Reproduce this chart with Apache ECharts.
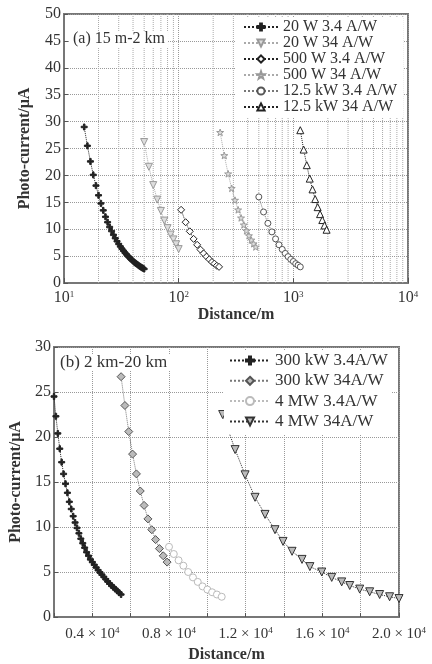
<!DOCTYPE html>
<html>
<head>
<meta charset="utf-8">
<script src="https://cdn.jsdelivr.net/npm/echarts@6/dist/echarts.min.js"></script>
<style>
  html, body { margin: 0; padding: 0; background: #fff; }
  #chart { width: 432px; height: 664px; }
</style>
</head>
<body>
<div id="chart"></div>
<script>
// ---- (a) 15 m - 2 km, log distance axis ----
const d20a = [15,16,17,18,19,20,21,22,23,24,25,26,27,28,29,30,31,32,33,34,35,36,37,38,39,40,41,42,43,44,45,46,47,48,49,50];
const i20a = [29.0,25.5,22.6,20.1,18.1,16.3,14.8,13.5,12.3,11.3,10.4,9.65,8.95,8.32,7.76,7.25,6.79,6.37,5.99,5.64,5.33,5.03,4.77,4.52,4.29,4.08,3.88,3.70,3.53,3.37,3.22,3.08,2.95,2.83,2.72,2.61];
const d20b = [50,55,60,65,70,75,80,85,90,95,100];
const i20b = [26.2,21.6,18.2,15.5,13.4,11.6,10.2,9.0,8.1,7.2,6.3];
const d500a = [105,115,125,135,145,155,165,175,185,195,205,215,225];
const i500a = [13.6,11.3,9.6,8.2,7.1,6.2,5.5,4.9,4.4,3.9,3.6,3.2,3.0];
const d500b = [230,250,270,290,310,330,350,370,390,410,430,450,470];
const i500b = [28.0,23.7,20.3,17.6,15.4,13.6,12.1,10.8,9.7,8.8,8.0,7.3,6.7];
const d12a = [500,550,600,650,700,750,800,850,900,950,1000,1050,1100,1150];
const i12a = [16.0,13.2,11.1,9.5,8.2,7.1,6.25,5.5,4.9,4.4,4.0,3.6,3.3,3.0];
const d12b = [1150,1230,1310,1390,1470,1550,1630,1710,1790,1870,1950];
const i12b = [28.4,24.8,21.9,19.4,17.4,15.6,14.1,12.8,11.7,10.7,9.9];
const namesA = ['20 W 3.4 A/W', '20 W 34 A/W', '500 W 3.4 A/W', '500 W 34 A/W', '12.5 kW 3.4 A/W', '12.5 kW 34 A/W'];
const minorLogTicks = [20,30,40,50,60,70,80,90,200,300,400,500,600,700,800,900,2000,3000,4000,5000,6000,7000,8000,9000];

// ---- (b) 2 km - 20 km, linear distance axis ----
const d300a = [2000,2100,2200,2300,2400,2500,2600,2700,2800,2900,3000,3100,3200,3300,3400,3500,3600,3700,3800,3900,4000,4100,4200,4300,4400,4500,4600,4700,4800,4900,5000,5100,5200,5300,5400,5500];
const i300a = [24.5,22.3,20.4,18.7,17.2,15.9,14.8,13.8,12.8,12.0,11.2,10.5,9.9,9.3,8.7,8.2,7.7,7.2,6.8,6.4,6.1,5.8,5.5,5.2,4.95,4.7,4.45,4.2,3.95,3.7,3.5,3.3,3.1,2.9,2.7,2.5];
const d300b = [5500,5700,5900,6100,6300,6500,6700,6900,7100,7300,7500,7700,7900];
const i300b = [26.7,23.5,20.6,18.1,15.9,14.0,12.4,10.9,9.7,8.6,7.6,6.8,6.1];
const d4a = [8000,8250,8500,8750,9000,9250,9500,9750,10000,10250,10500,10750];
const i4a = [7.8,7.0,6.3,5.7,5.0,4.4,3.9,3.4,3.05,2.75,2.5,2.25];
const d4b = [10800,11450,11970,12490,13010,13530,13950,14420,14940,15350,15970,16490,17010,17430,17950,18470,18990,19510,20000];
const i4b = [22.5,18.6,15.8,13.3,11.4,9.7,8.4,7.3,6.4,5.6,5.0,4.4,3.9,3.5,3.1,2.8,2.5,2.25,2.05];
const namesB = ['300 kW 3.4A/W', '300 kW 34A/W', '4 MW 3.4A/W', '4 MW 34A/W'];

const FONT = '"Liberation Serif", "Times New Roman", serif';
const PLUS = 'path://M3,0H5V3H8V5H5V8H3V5H0V3H3Z';
const STAR = 'path://M5,0L6.2,3.5L10,3.6L7,5.9L8.1,9.5L5,7.4L1.9,9.5L3,5.9L0,3.6L3.8,3.5Z';

function pairs(xs, ys) { return xs.map((x, i) => [x, ys[i]]); }

function mk(name, xs, ys, idx, symbol, size, fill, stroke, lineColor, rotate) {
  return {
    name: name, type: 'line', xAxisIndex: idx, yAxisIndex: idx,
    data: pairs(xs, ys),
    symbol: symbol, symbolSize: size, symbolRotate: rotate || 0, symbolKeepAspect: true,
    itemStyle: { color: fill, borderColor: stroke, borderWidth: 1 },
    lineStyle: { color: lineColor, width: 1, type: 'dotted' },
    emphasis: { disabled: true },
    z: 3
  };
}

// vertical minor grid lines of the log axis, broken between ticks with '-'
const minorGrid = [];
minorLogTicks.forEach(v => { minorGrid.push([v, 0], [v, 50], [v, '-']); });

const gridLine = { show: true, lineStyle: { color: '#999', type: 'dotted', width: 1 } };
const tickFont = { fontFamily: FONT, fontSize: 16, color: '#333' };
const nameFont = { fontFamily: FONT, fontSize: 16, fontWeight: 'bold', color: '#333' };
const axisLine = { show: true, lineStyle: { color: '#777', width: 2 } };

const series = [
  { name: 'minor', type: 'line', data: minorGrid, symbol: 'none', silent: true, z: 1,
    xAxisIndex: 0, yAxisIndex: 0, connectNulls: false,
    lineStyle: { color: '#aaa', width: 1, type: 'dotted' } },
  mk(namesA[0], d20a, i20a, 0, PLUS, 6, '#222', '#222', '#222'),
  mk(namesA[1], d20b, i20b, 0, 'triangle', 7, '#ddd', '#999', '#aaa', 180),
  mk(namesA[2], d500a, i500a, 0, 'diamond', 7, '#fff', '#222', '#222'),
  mk(namesA[3], d500b, i500b, 0, STAR, 7, '#ddd', '#999', '#aaa'),
  mk(namesA[4], d12a, i12a, 0, 'circle', 6, '#fff', '#555', '#777'),
  mk(namesA[5], d12b, i12b, 0, 'triangle', 7, '#fff', '#222', '#222'),
  mk(namesB[0], d300a, i300a, 1, PLUS, 6, '#222', '#222', '#222'),
  mk(namesB[1], d300b, i300b, 1, 'diamond', 8, '#bbb', '#555', '#777'),
  mk(namesB[2], d4a, i4a, 1, 'circle', 7, '#fff', '#bbb', '#bbb'),
  mk(namesB[3], d4b, i4b, 1, 'triangle', 8, '#bbb', '#333', '#333', 180)
];

const chart = echarts.init(document.getElementById('chart'), null, { renderer: 'canvas' });
chart.setOption({
  backgroundColor: '#fff',
  animation: false,
  title: [
    { text: '(a) 15 m-2 km', left: 70, top: 31, padding: [0, 3], backgroundColor: '#fff',
      textStyle: { fontFamily: FONT, fontSize: 16, fontWeight: 'normal', color: '#333' } },
    { text: '(b) 2 km-20 km', left: 57, top: 354, padding: [0, 3], backgroundColor: '#fff',
      textStyle: { fontFamily: FONT, fontSize: 17, fontWeight: 'normal', color: '#333' } }
  ],
  legend: [
    { data: namesA, orient: 'vertical', left: 235, top: 17, padding: [2, 6, 3, 8],
      backgroundColor: '#fff', itemWidth: 34, itemHeight: 9, itemGap: 0, selectedMode: false,
      textStyle: { fontFamily: FONT, fontSize: 16, color: '#333' } },
    { data: namesB, orient: 'vertical', left: 224, top: 350, padding: [2, 4, 4, 5],
      backgroundColor: '#fff', itemWidth: 40, itemHeight: 10, itemGap: 3.3, selectedMode: false,
      textStyle: { fontFamily: FONT, fontSize: 17, color: '#333' } }
  ],
  grid: [
    { left: 64, top: 14, width: 344, height: 269, show: true, borderColor: '#777', borderWidth: 2 },
    { left: 53, top: 347, width: 346, height: 271, show: true, borderColor: '#777', borderWidth: 2 }
  ],
  xAxis: [
    { type: 'log', logBase: 10, min: 10, max: 10000, gridIndex: 0,
      name: 'Distance/m', nameLocation: 'middle', nameGap: 22, nameTextStyle: nameFont,
      axisLine: axisLine, axisTick: { inside: true, length: 5, lineStyle: { color: '#555' } },
      splitLine: gridLine,
      axisLabel: {
        margin: 7,
        formatter: v => '{b|10}{s|' + Math.round(Math.log10(v)) + '}',
        rich: { b: { fontFamily: FONT, fontSize: 16, color: '#333', lineHeight: 16 },
                s: { fontFamily: FONT, fontSize: 9, color: '#333', verticalAlign: 'top', lineHeight: 10 } }
      } },
    { type: 'value', min: 2000, max: 20000, interval: 2000, gridIndex: 1,
      name: 'Distance/m', nameLocation: 'middle', nameGap: 30, nameTextStyle: nameFont,
      axisLine: axisLine, axisTick: { inside: true, length: 4, lineStyle: { color: '#555' } },
      splitLine: gridLine,
      axisLabel: {
        margin: 9,
        formatter: v => (v % 4000 === 0) ? '{b|' + (v / 10000).toFixed(1) + ' × 10}{s|4}' : '',
        rich: { b: { fontFamily: FONT, fontSize: 15, color: '#333', lineHeight: 16 },
                s: { fontFamily: FONT, fontSize: 9, color: '#333', verticalAlign: 'top', lineHeight: 10 } }
      } }
  ],
  yAxis: [
    { type: 'value', min: 0, max: 50, interval: 5, gridIndex: 0,
      name: 'Photo-current/\u03bcA', nameLocation: 'middle', nameGap: 31, nameTextStyle: nameFont,
      axisLine: axisLine, axisTick: { show: true, inside: true, length: 4, lineStyle: { color: '#555' } },
      splitLine: gridLine, axisLabel: Object.assign({ margin: 3 }, tickFont) },
    { type: 'value', min: 0, max: 30, interval: 5, gridIndex: 1,
      name: 'Photo-current/\u03bcA', nameLocation: 'middle', nameGap: 30, nameTextStyle: nameFont,
      axisLine: axisLine, axisTick: { show: true, inside: true, length: 4, lineStyle: { color: '#555' } },
      splitLine: gridLine, axisLabel: Object.assign({ margin: 3 }, tickFont) }
  ],
  series: series
});
</script>
</body>
</html>
